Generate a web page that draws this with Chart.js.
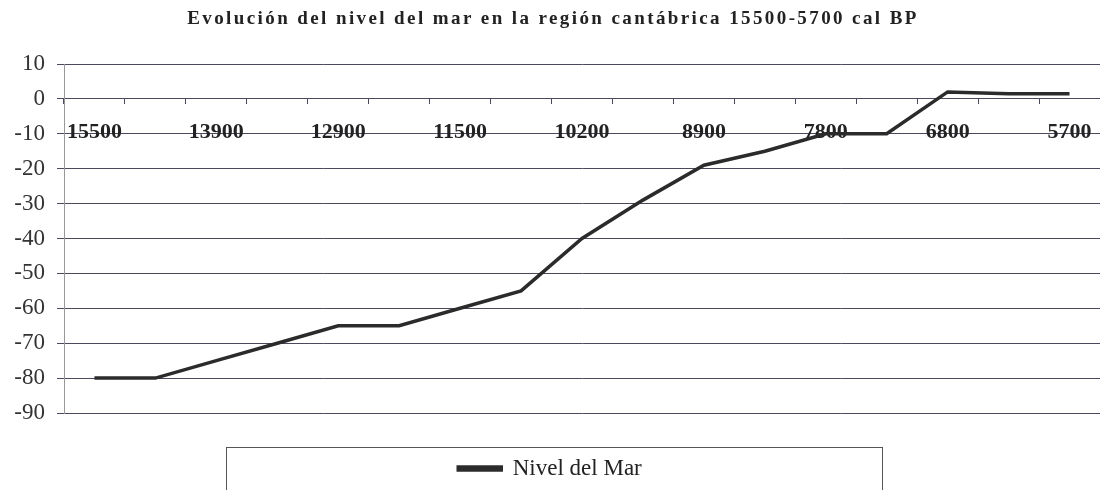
<!DOCTYPE html>
<html>
<head>
<meta charset="utf-8">
<script src="https://cdn.jsdelivr.net/npm/chart.js@4/dist/chart.umd.min.js"></script>
<style>
  html, body { margin: 0; padding: 0; background: #fff; overflow: hidden; }
  #wrap { width: 1100px; height: 490px; }
</style>
</head>
<body>
<div id="wrap"><canvas id="seaChart"></canvas></div>
<script>
// years cal BP, only every other category carries a label in the source
const years = ['15500', '', '13900', '', '12900', '', '11500', '', '10200', '', '8900', '', '7800', '', '6800', '', '5700'];
// sea level (m)
const seaLevel = [-80, -80, -75, -70, -65, -65, -60, -55, -40, -29, -19, -15, -10, -10, 2, 1.5, 1.5];
const yTicks = { min: -90, max: 10, step: 10 };
const chartTitle = 'Evolución del nivel del mar en la región cantábrica 15500-5700 cal BP';
const seriesName = 'Nivel del Mar';

const gridColor = '#4a4a5c';

// title with letter spacing, plus the frame around the legend
const decorations = {
  id: 'decorations',
  afterDraw(chart) {
    const ctx = chart.ctx;
    ctx.save();
    ctx.font = 'bold 19px "Liberation Serif", serif';
    ctx.fillStyle = '#222';
    ctx.textAlign = 'center';
    ctx.textBaseline = 'middle';
    if ('letterSpacing' in ctx) ctx.letterSpacing = '2.4px';
    ctx.fillText(chartTitle, 553, 19);
    if ('letterSpacing' in ctx) ctx.letterSpacing = '0px';
    ctx.strokeStyle = '#555';
    ctx.lineWidth = 1;
    ctx.strokeRect(226.5, 447.5, 656, 80);
    ctx.restore();
  }
};

const ctx = document.getElementById('seaChart').getContext('2d');
new Chart(ctx, {
  type: 'line',
  data: {
    labels: years,
    datasets: [{
      label: seriesName,
      data: seaLevel,
      borderColor: '#2b2b2b',
      backgroundColor: '#2b2b2b',
      borderWidth: 3.5,
      pointRadius: 0,
      tension: 0
    }]
  },
  options: {
    responsive: true,
    maintainAspectRatio: false,
    animation: false,
    layout: { padding: { top: 64, left: 0, right: 0, bottom: 0 } },
    plugins: {
      title: { display: false },
      tooltip: { enabled: false },
      legend: {
        position: 'bottom',
        labels: {
          boxWidth: 43,
          boxHeight: 3,
          padding: 44,
          color: '#222',
          font: { family: '"Liberation Serif", serif', size: 23 }
        }
      }
    },
    scales: {
      x: {
        type: 'category',
        position: { y: 0 },
        offset: true,
        afterFit(axis) { axis.paddingLeft = 0; axis.paddingRight = 0; },
        grid: { display: true, drawOnChartArea: false, drawTicks: true, tickLength: 5, offset: true, color: gridColor },
        border: { display: true, color: gridColor },
        ticks: {
          autoSkip: false,
          maxRotation: 0,
          padding: 15,
          color: '#222',
          font: { family: '"Liberation Serif", serif', size: 22, weight: 'bold' }
        }
      },
      y: {
        min: yTicks.min,
        max: yTicks.max,
        afterFit(axis) { axis.width = 64; },
        grid: { color: gridColor, tickLength: 7 },
        border: { display: true, color: '#999' },
        ticks: {
          stepSize: yTicks.step,
          padding: 12,
          color: '#333',
          font: { family: '"Liberation Serif", serif', size: 23 }
        }
      }
    }
  },
  plugins: [decorations]
});
</script>
</body>
</html>
